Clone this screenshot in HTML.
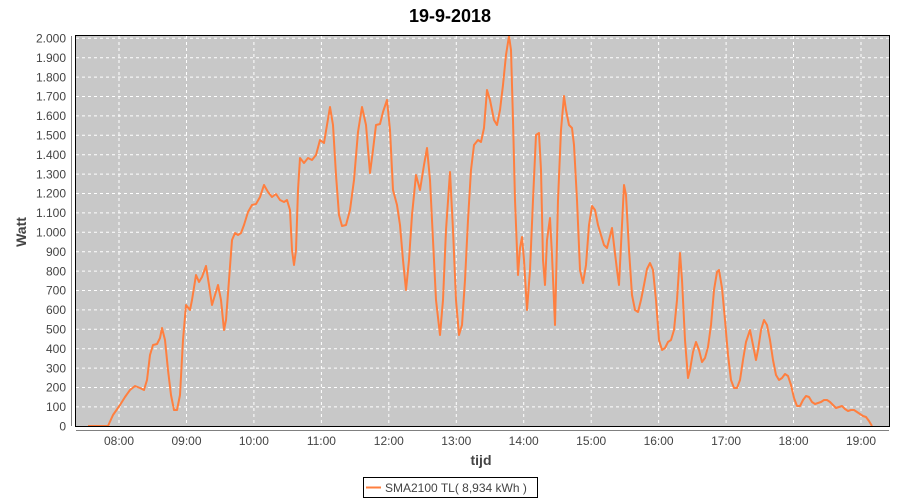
<!DOCTYPE html>
<html><head><meta charset="utf-8"><style>
body{margin:0;background:#fff;}
svg{display:block;font-family:"Liberation Sans",sans-serif;}
</style></head><body>
<svg width="900" height="500" xmlns="http://www.w3.org/2000/svg">
<rect width="900" height="500" fill="#fff"/>
<text x="450" y="22" text-anchor="middle" font-size="18" font-weight="bold" fill="#000">19-9-2018</text>
<rect x="75.5" y="35.5" width="814" height="391" fill="#c8c8c8" stroke="none"/>
<g stroke="#fff" stroke-width="1" stroke-dasharray="3,3">
<line x1="76" x2="889" y1="406.9" y2="406.9"/><line x1="76" x2="889" y1="387.5" y2="387.5"/><line x1="76" x2="889" y1="368.1" y2="368.1"/><line x1="76" x2="889" y1="348.7" y2="348.7"/><line x1="76" x2="889" y1="329.3" y2="329.3"/><line x1="76" x2="889" y1="309.9" y2="309.9"/><line x1="76" x2="889" y1="290.5" y2="290.5"/><line x1="76" x2="889" y1="271.1" y2="271.1"/><line x1="76" x2="889" y1="251.7" y2="251.7"/><line x1="76" x2="889" y1="232.3" y2="232.3"/><line x1="76" x2="889" y1="212.9" y2="212.9"/><line x1="76" x2="889" y1="193.5" y2="193.5"/><line x1="76" x2="889" y1="174.1" y2="174.1"/><line x1="76" x2="889" y1="154.7" y2="154.7"/><line x1="76" x2="889" y1="135.3" y2="135.3"/><line x1="76" x2="889" y1="115.9" y2="115.9"/><line x1="76" x2="889" y1="96.5" y2="96.5"/><line x1="76" x2="889" y1="77.1" y2="77.1"/><line x1="76" x2="889" y1="57.7" y2="57.7"/><line x1="76" x2="889" y1="38.3" y2="38.3"/>
<line y1="36" y2="426" x1="119" x2="119"/><line y1="36" y2="426" x1="186.5" x2="186.5"/><line y1="36" y2="426" x1="253.9" x2="253.9"/><line y1="36" y2="426" x1="321.4" x2="321.4"/><line y1="36" y2="426" x1="388.8" x2="388.8"/><line y1="36" y2="426" x1="456.3" x2="456.3"/><line y1="36" y2="426" x1="523.7" x2="523.7"/><line y1="36" y2="426" x1="591.2" x2="591.2"/><line y1="36" y2="426" x1="658.6" x2="658.6"/><line y1="36" y2="426" x1="726.1" x2="726.1"/><line y1="36" y2="426" x1="793.5" x2="793.5"/><line y1="36" y2="426" x1="861" x2="861"/>
</g>
<polyline fill="none" stroke="#ff7f3f" stroke-width="2" stroke-linejoin="round" points="88,426 108,426 113,415 120,405 125,397 130,390 135,386 140,388 144,390 147,380 150,355 153,345 157,344 160,338 162,328 165,340 168,370 171,395 174,410 177,410 180,395 183,340 186,305 190,310 192,300 196,275 199,282 202,277 206,266 209,285 212,305 215,295 218,285 221,300 224,330 226,320 229,280 232,240 235,233 238,235 241,233 244,225 248,212 252,205 256,204 260,197 264,185 268,192 272,197 276,194 280,200 284,202 287,200 290,210 292,250 294,265 296,250 298,190 300,158 304,163 308,158 312,160 316,155 320,140 324,143 327,125 330,107 333,125 336,175 339,215 342,226 346,225 350,210 354,180 358,132 362,107 366,125 370,173 373,150 376,125 380,124 383,112 387,100 390,130 393,190 397,205 400,225 403,260 406,290 409,260 412,215 416,175 420,190 424,165 427,148 430,180 433,240 436,300 440,335 443,300 446,230 450,172 453,230 456,300 459,335 462,325 465,280 468,220 471,170 474,145 478,140 481,142 484,128 487,90 490,100 494,120 497,125 500,110 503,85 506,55 509,36 511,50 513,120 515,200 518,275 520,248 522,237 524,260 527,310 530,270 533,200 536,135 539,133 541,170 543,260 545,285 547,240 550,218 552,255 555,325 558,200 561,130 564,96 566,110 569,125 572,128 574,145 577,200 580,270 583,283 586,265 589,225 592,206 595,210 598,225 601,235 604,245 607,248 609,240 612,228 614,245 617,270 619,285 621,245 624,185 626,195 629,250 632,295 635,310 638,312 641,300 644,285 647,269 650,263 653,270 656,300 659,340 662,350 665,348 668,342 671,340 674,330 677,300 680,253 682,280 685,340 688,378 690,370 693,352 696,342 699,350 702,362 705,358 708,347 711,325 714,290 717,272 719,270 722,288 725,320 728,355 731,380 734,388 737,388 740,380 743,360 746,342 750,330 753,345 756,360 758,350 761,330 764,320 767,325 770,340 773,360 776,375 779,380 782,378 785,374 788,376 791,385 794,398 797,406 800,406 803,400 806,396 809,397 812,402 815,404 818,403 821,402 824,400 827,400 830,402 833,405 836,408 839,407 842,406 845,409 848,411 851,410 854,410 857,412 860,414 863,416 866,417 869,421 872,426"/>
<rect x="75.5" y="35.5" width="814" height="391" fill="none" stroke="#000" stroke-width="1"/>
<g stroke="#808080" stroke-width="1">
<line x1="71.5" x2="71.5" y1="36" y2="426"/>
<line x1="76" x2="889" y1="430.5" y2="430.5"/>
</g>
<g fill="#444" font-size="12" text-anchor="end">
<text x="66" y="430.5">0</text><text x="66" y="411.1">100</text><text x="66" y="391.7">200</text><text x="66" y="372.3">300</text><text x="66" y="352.9">400</text><text x="66" y="333.5">500</text><text x="66" y="314.1">600</text><text x="66" y="294.7">700</text><text x="66" y="275.3">800</text><text x="66" y="255.9">900</text><text x="66" y="236.5">1.000</text><text x="66" y="217.1">1.100</text><text x="66" y="197.7">1.200</text><text x="66" y="178.3">1.300</text><text x="66" y="158.9">1.400</text><text x="66" y="139.5">1.500</text><text x="66" y="120.1">1.600</text><text x="66" y="100.7">1.700</text><text x="66" y="81.3">1.800</text><text x="66" y="61.9">1.900</text><text x="66" y="42.5">2.000</text>
</g>
<g fill="#444" font-size="12" text-anchor="middle">
<text x="119" y="445">08:00</text><text x="186.5" y="445">09:00</text><text x="253.9" y="445">10:00</text><text x="321.4" y="445">11:00</text><text x="388.8" y="445">12:00</text><text x="456.3" y="445">13:00</text><text x="523.7" y="445">14:00</text><text x="591.2" y="445">15:00</text><text x="658.6" y="445">16:00</text><text x="726.1" y="445">17:00</text><text x="793.5" y="445">18:00</text><text x="861" y="445">19:00</text>
</g>
<text x="481" y="465" text-anchor="middle" font-size="14" font-weight="bold" fill="#444">tijd</text>
<text transform="translate(26,232) rotate(-90)" text-anchor="middle" font-size="14" font-weight="bold" fill="#444">Watt</text>
<rect x="363.5" y="477.5" width="174" height="20" fill="#fff" stroke="#000"/>
<line x1="366" x2="381" y1="487.5" y2="487.5" stroke="#ff7f3f" stroke-width="2"/>
<text x="385" y="492" font-size="12" fill="#444">SMA2100 TL( 8,934 kWh )</text>
</svg>
</body></html>
